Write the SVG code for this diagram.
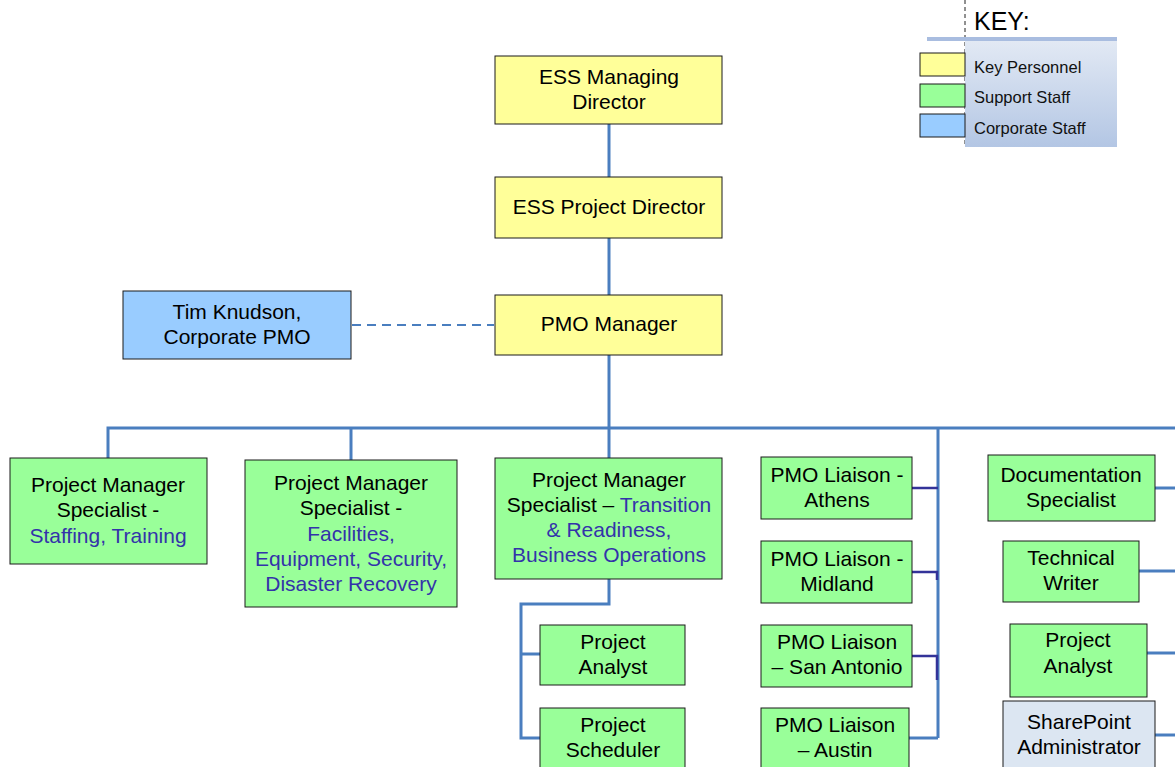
<svg xmlns="http://www.w3.org/2000/svg" width="1175" height="767" viewBox="0 0 1175 767">
  <defs>
    <linearGradient id="keyPanel" x1="0" y1="0" x2="0" y2="1">
      <stop offset="0" stop-color="#e2e9f4"/>
      <stop offset="1" stop-color="#b3c6e4"/>
    </linearGradient>
  </defs>
  <style>
    .box { stroke: #1a1a1a; stroke-width: 1; }
    .key { fill: #ffff99; }
    .sup { fill: #99ff99; }
    .corp { fill: #99ccff; }
    .sp { fill: #dce6f2; }
    .t { font-family: "Liberation Sans", Arial, sans-serif; font-size: 21px; fill: #000; text-anchor: middle; }
    .hl { fill: #3333aa; }
    .lg { font-family: "Liberation Sans", Arial, sans-serif; font-size: 16.5px; fill: #111; }
    .ln { stroke: #4a7ebf; stroke-width: 3; fill: none; }
    .dk { stroke: #333399; stroke-width: 2.5; fill: none; }
  </style>

  <!-- key / legend -->
  <g id="legend">
    <line x1="965" y1="0" x2="965" y2="147" stroke="#222" stroke-width="1" stroke-dasharray="4,3"/>
    <text x="974" y="30" font-family="Liberation Sans, Arial, sans-serif" font-size="25" fill="#000">KEY:</text>
    <rect x="965" y="41" width="152" height="106" fill="url(#keyPanel)"/>
    <rect x="927" y="37" width="190" height="4" fill="#a9bde0"/>
    <rect class="box key" x="920" y="53" width="45" height="23"/>
    <rect class="box sup" x="920" y="84" width="45" height="23"/>
    <rect class="box corp" x="920" y="114" width="45" height="23"/>
    <text class="lg" x="974" y="73">Key Personnel</text>
    <text class="lg" x="974" y="103">Support Staff</text>
    <text class="lg" x="974" y="134">Corporate Staff</text>
  </g>

  <!-- connectors -->
  <g id="connectors">
    <line class="ln" x1="609" y1="124" x2="609" y2="177"/>
    <line class="ln" x1="609" y1="238" x2="609" y2="295"/>
    <line x1="352" y1="325" x2="494" y2="325" stroke="#4a7ebf" stroke-width="2" stroke-dasharray="9,6"/>
    <line class="ln" x1="609" y1="355" x2="609" y2="458"/>
    <polyline class="ln" points="108,458 108,428 1175,428"/>
    <line class="ln" x1="351" y1="428" x2="351" y2="460"/>
    <line class="ln" x1="938" y1="428" x2="938" y2="738"/>
    <polyline class="ln" points="609,579 609,604 521,604 521,738 540,738"/>
    <line class="ln" x1="521" y1="654" x2="540" y2="654"/>
    <line class="dk" x1="912" y1="488" x2="938" y2="488"/>
    <polyline class="dk" points="912,572 937,572 937,580"/>
    <polyline class="dk" points="912,656 937,656 937,680"/>
    <polyline class="ln" points="909,738 938,738"/>
    <line class="ln" x1="1155" y1="488" x2="1175" y2="488"/>
    <line class="ln" x1="1139" y1="571" x2="1175" y2="571"/>
    <line class="ln" x1="1147" y1="653" x2="1175" y2="653"/>
    <line class="ln" x1="1155" y1="735" x2="1175" y2="735"/>
  </g>

  <g id="managing-director">
    <rect class="box key" x="495" y="56" width="227" height="68"/>
    <text class="t" x="609" y="84">ESS Managing</text>
    <text class="t" x="609" y="109">Director</text>
  </g>

  <g id="project-director">
    <rect class="box key" x="495" y="177" width="227" height="61"/>
    <text class="t" x="609" y="214">ESS Project Director</text>
  </g>

  <g id="pmo-manager">
    <rect class="box key" x="495" y="295" width="227" height="60"/>
    <text class="t" x="609" y="331">PMO Manager</text>
  </g>

  <g id="corporate-pmo">
    <rect class="box corp" x="123" y="291" width="228" height="68"/>
    <text class="t" x="237" y="319">Tim Knudson,</text>
    <text class="t" x="237" y="344">Corporate PMO</text>
  </g>

  <g id="pms-staffing">
    <rect class="box sup" x="10" y="458" width="197" height="106"/>
    <text class="t" x="108" y="492">Project Manager</text>
    <text class="t" x="108" y="517">Specialist -</text>
    <text class="t hl" x="108" y="543">Staffing, Training</text>
  </g>

  <g id="pms-facilities">
    <rect class="box sup" x="245" y="460" width="212" height="147"/>
    <text class="t" x="351" y="490">Project Manager</text>
    <text class="t" x="351" y="515">Specialist -</text>
    <text class="t hl" x="351" y="541">Facilities,</text>
    <text class="t hl" x="351" y="566">Equipment, Security,</text>
    <text class="t hl" x="351" y="591">Disaster Recovery</text>
  </g>

  <g id="pms-transition">
    <rect class="box sup" x="495" y="458" width="227" height="121"/>
    <text class="t" x="609" y="487">Project Manager</text>
    <text class="t" x="609" y="512">Specialist – <tspan class="hl">Transition</tspan></text>
    <text class="t hl" x="609" y="537">&amp; Readiness,</text>
    <text class="t hl" x="609" y="562">Business Operations</text>
  </g>

  <g id="project-analyst-1">
    <rect class="box sup" x="540" y="625" width="145" height="60"/>
    <text class="t" x="613" y="649">Project</text>
    <text class="t" x="613" y="674">Analyst</text>
  </g>

  <g id="project-scheduler">
    <rect class="box sup" x="540" y="708" width="145" height="65"/>
    <text class="t" x="613" y="732">Project</text>
    <text class="t" x="613" y="757">Scheduler</text>
  </g>

  <g id="liaison-athens">
    <rect class="box sup" x="761" y="457" width="151" height="62"/>
    <text class="t" x="837" y="482">PMO Liaison -</text>
    <text class="t" x="837" y="507">Athens</text>
  </g>

  <g id="liaison-midland">
    <rect class="box sup" x="761" y="541" width="151" height="62"/>
    <text class="t" x="837" y="566">PMO Liaison -</text>
    <text class="t" x="837" y="591">Midland</text>
  </g>

  <g id="liaison-san-antonio">
    <rect class="box sup" x="761" y="625" width="151" height="62"/>
    <text class="t" x="837" y="649">PMO Liaison</text>
    <text class="t" x="837" y="674">– San Antonio</text>
  </g>

  <g id="liaison-austin">
    <rect class="box sup" x="761" y="708" width="148" height="65"/>
    <text class="t" x="835" y="732">PMO Liaison</text>
    <text class="t" x="835" y="757">– Austin</text>
  </g>

  <g id="documentation-specialist">
    <rect class="box sup" x="988" y="455" width="167" height="66"/>
    <text class="t" x="1071" y="482">Documentation</text>
    <text class="t" x="1071" y="507">Specialist</text>
  </g>

  <g id="technical-writer">
    <rect class="box sup" x="1003" y="541" width="136" height="61"/>
    <text class="t" x="1071" y="565">Technical</text>
    <text class="t" x="1071" y="590">Writer</text>
  </g>

  <g id="project-analyst-2">
    <rect class="box sup" x="1010" y="624" width="137" height="73"/>
    <text class="t" x="1078" y="647">Project</text>
    <text class="t" x="1078" y="673">Analyst</text>
  </g>

  <g id="sharepoint-admin">
    <rect class="box sp" x="1003" y="701" width="152" height="72"/>
    <text class="t" x="1079" y="729">SharePoint</text>
    <text class="t" x="1079" y="754">Administrator</text>
  </g>
</svg>
